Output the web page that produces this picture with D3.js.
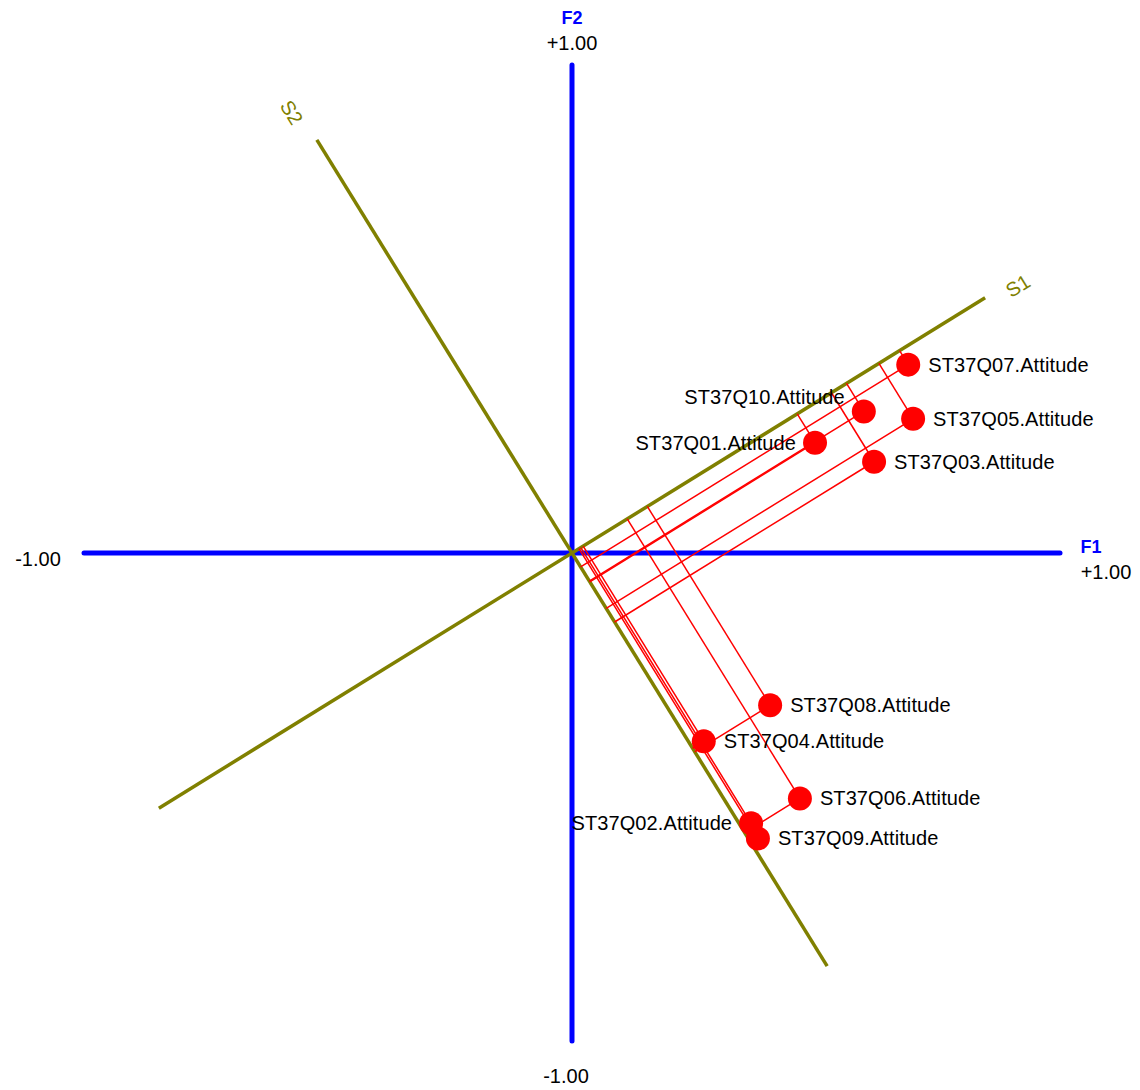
<!DOCTYPE html>
<html>
<head>
<meta charset="utf-8">
<script src="https://cdn.jsdelivr.net/npm/d3@7/dist/d3.min.js"></script>
<style>
  html, body { margin: 0; padding: 0; background: #fff; }
  svg { display: block; font-family: "Liberation Sans", Arial, sans-serif; }
</style>
</head>
<body>
<svg id="chart" width="1140" height="1090"></svg>
<script>
// Factor loadings on F1 / F2 for each item
const items = ["ST37Q07.Attitude", "ST37Q10.Attitude", "ST37Q05.Attitude", "ST37Q01.Attitude",
               "ST37Q03.Attitude", "ST37Q08.Attitude", "ST37Q04.Attitude", "ST37Q06.Attitude",
               "ST37Q02.Attitude", "ST37Q09.Attitude"];
const f1 = [0.689, 0.598, 0.699, 0.498, 0.619, 0.406, 0.270, 0.467, 0.367, 0.381];
const f2 = [0.386, 0.290, 0.275, 0.226, 0.187, -0.312, -0.386, -0.503, -0.554, -0.585];
// Which side each label sits on
const labelSide = ["right", "left-up", "right", "left", "right", "right", "right", "right", "left", "right"];
// Rotation angle (degrees) of the S1/S2 frame
const rotationDeg = 31.7;
const axisTicks = ["-1.00", "+1.00"];

const svg = d3.select("#chart");
const cx = 572, cy = 553, R = 488;
const x = d3.scaleLinear().domain([-1, 1]).range([cx - R, cx + R]);
const y = d3.scaleLinear().domain([-1, 1]).range([cy + R, cy - R]);

const th = rotationDeg * Math.PI / 180;
const c = Math.cos(th), s = Math.sin(th);
const u1 = [c, s];        // S1 direction
const u2 = [-s, c];       // S2 direction

const data = items.map((name, i) => {
  const p1 = f1[i] * u1[0] + f2[i] * u1[1];
  const p2 = f1[i] * u2[0] + f2[i] * u2[1];
  return { name, x: f1[i], y: f2[i], p1, p2, side: labelSide[i] };
});

// F1 / F2 axes
svg.append("line").attr("x1", x(-1)).attr("x2", x(1)).attr("y1", y(0)).attr("y2", y(0))
  .attr("stroke", "#0000ff").attr("stroke-width", 5).attr("stroke-linecap", "round");
svg.append("line").attr("x1", x(0)).attr("x2", x(0)).attr("y1", y(-1)).attr("y2", y(1))
  .attr("stroke", "#0000ff").attr("stroke-width", 5).attr("stroke-linecap", "round");

// Rotated S1 / S2 axes
const sLen = 0.995;
[u1, u2].forEach(u => {
  svg.append("line")
    .attr("x1", x(-sLen * u[0])).attr("y1", y(-sLen * u[1]))
    .attr("x2", x(sLen * u[0])).attr("y2", y(sLen * u[1]))
    .attr("stroke", "#808000").attr("stroke-width", 3.5);
});

// Projection lines from each point to S1 and S2
const proj = svg.append("g").attr("stroke", "#ff0000").attr("stroke-width", 1.5);
data.forEach(d => {
  proj.append("line").attr("x1", x(d.x)).attr("y1", y(d.y))
    .attr("x2", x(d.p1 * u1[0])).attr("y2", y(d.p1 * u1[1]));
  proj.append("line").attr("x1", x(d.x)).attr("y1", y(d.y))
    .attr("x2", x(d.p2 * u2[0])).attr("y2", y(d.p2 * u2[1]));
});

// Points
svg.append("g").selectAll("circle").data(data).join("circle")
  .attr("cx", d => x(d.x)).attr("cy", d => y(d.y)).attr("r", 12)
  .attr("fill", "#ff0000");

// Point labels
svg.append("g").selectAll("text").data(data).join("text")
  .attr("x", d => x(d.x) + (d.side === "right" ? 20 : -19))
  .attr("y", d => y(d.y) + (d.side === "left-up" ? -14 : 0))
  .attr("dy", "0.35em")
  .attr("text-anchor", d => d.side === "right" ? "start" : "end")
  .attr("font-size", 20).attr("letter-spacing", 0.1)
  .attr("fill", "#000")
  .text(d => d.name);

// Axis end values
const tickStyle = sel => sel.attr("font-size", 20).attr("fill", "#000");
svg.append("text").attr("x", x(0)).attr("y", y(1) - 15).attr("text-anchor", "middle").text(axisTicks[1]).call(tickStyle);
svg.append("text").attr("x", x(0) - 6).attr("y", y(-1) + 42).attr("text-anchor", "middle").text(axisTicks[0]).call(tickStyle);
svg.append("text").attr("x", x(-1) - 46).attr("y", y(0) + 13).attr("text-anchor", "middle").text(axisTicks[0]).call(tickStyle);
svg.append("text").attr("x", x(1) + 46).attr("y", y(0) + 26).attr("text-anchor", "middle").text(axisTicks[1]).call(tickStyle);

// Axis names
const nameStyle = sel => sel.attr("font-size", 18).attr("font-weight", "bold").attr("fill", "#0000ff").attr("text-anchor", "middle");
svg.append("text").attr("x", x(0)).attr("y", y(1) - 41).text("F2").call(nameStyle);
svg.append("text").attr("x", x(1) + 31).attr("y", y(0) + 0).text("F1").call(nameStyle);

// Rotated axis names
const sLabel = sel => sel.attr("font-size", 20).attr("fill", "#808000").attr("text-anchor", "middle").attr("dy", "0.7em");
const s1Pos = [x(1.065 * u1[0]), y(1.065 * u1[1])];
svg.append("text").attr("transform", `translate(${s1Pos[0]},${s1Pos[1]}) rotate(${-rotationDeg})`).text("S1").call(sLabel);
const s2Pos = [x(1.07 * u2[0]), y(1.07 * u2[1])];
svg.append("text").attr("transform", `translate(${s2Pos[0]},${s2Pos[1]}) rotate(${90 - rotationDeg})`).text("S2").call(sLabel);
</script>
</body>
</html>
